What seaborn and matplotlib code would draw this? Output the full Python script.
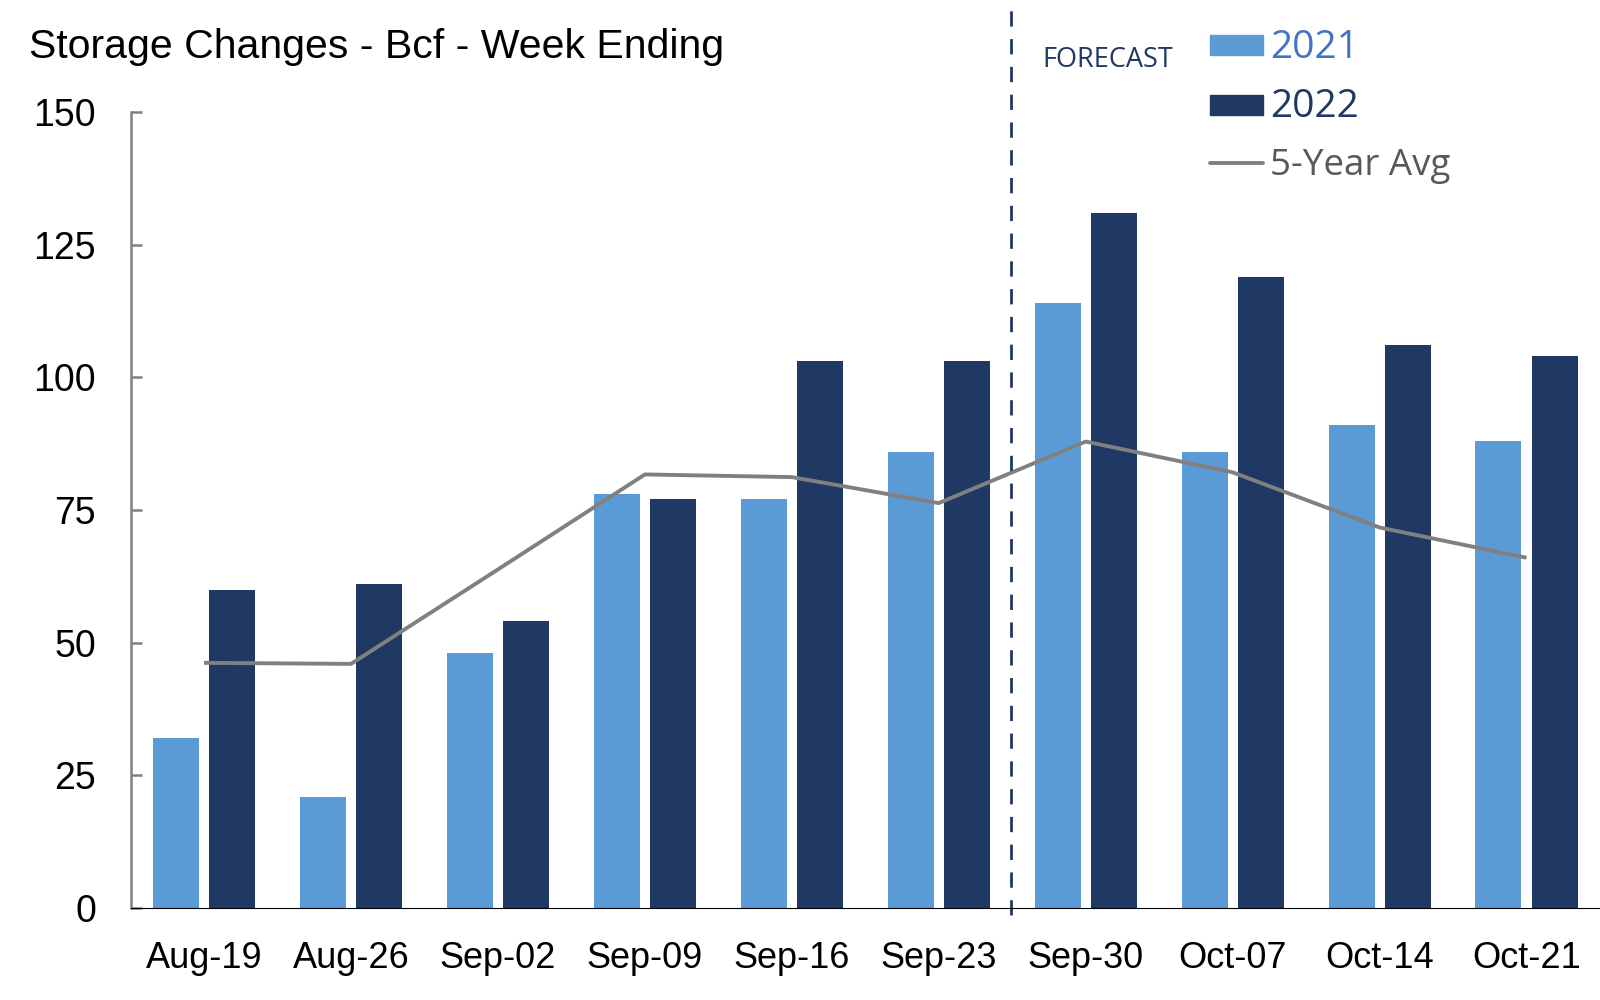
import numpy as np
import pandas as pd
import seaborn as sns
import matplotlib.pyplot as plt
from matplotlib.patches import Rectangle
from matplotlib.lines import Line2D

# data
weeks = ['Aug-19', 'Aug-26', 'Sep-02', 'Sep-09', 'Sep-16',
         'Sep-23', 'Sep-30', 'Oct-07', 'Oct-14', 'Oct-21']
y2021 = [32, 21, 48, 78, 77, 86, 114, 86, 91, 88]
y2022 = [60, 61, 54, 77, 103, 103, 131, 119, 106, 104]
avg5 = [46.2, 46.0, 63.8, 81.7, 81.2, 76.3, 87.9, 82.1, 71.7, 66.0]
years = ['2021', '2022']

df = pd.DataFrame({
    'week': weeks * 2,
    'year': [years[0]] * len(weeks) + [years[1]] * len(weeks),
    'bcf': y2021 + y2022,
})

c21 = '#5B9BD5'
c22 = '#203864'
gray = '#808080'

sns.set_theme(style='white')
plt.rcParams['font.family'] = ['Liberation Sans', 'DejaVu Sans']

W, H = 1600, 1000
fig = plt.figure(figsize=(16, 10), dpi=100)
ax = fig.add_axes([130.6 / W, 0.092, 1 - 130.6 / W, 0.796])

sns.barplot(data=df, x='week', y='bcf', hue='year', palette=[c21, c22],
            width=0.764, gap=0.18, saturation=1, legend=False, ax=ax,
            linewidth=0)
ax.plot(np.arange(len(weeks)), avg5, color=gray, lw=2.8, solid_capstyle='butt')

# forecast divider
ax.axvline(5.49, ymin=-0.009, ymax=1.13, clip_on=False, color='#1F3864',
           lw=2, ls=(0, (5.5, 4.5)))

ax.set_ylim(0, 150)
ax.set_xlim(-0.5, len(weeks) - 0.5)
ax.set_yticks([0, 25, 50, 75, 100, 125, 150])
ax.set_xlabel('')
ax.set_ylabel('')

for s in ['top', 'right']:
    ax.spines[s].set_visible(False)
ax.spines['left'].set_color(gray)
ax.spines['left'].set_linewidth(1.8)
ax.spines['bottom'].set_color('black')
ax.spines['bottom'].set_linewidth(0.8)

ax.tick_params(axis='y', direction='in', length=8, width=1.8, color=gray,
               labelsize=27, pad=25, labelcolor='black', left=True)
ax.tick_params(axis='x', length=0, labelsize=26, pad=24, labelcolor='black')

# title
fig.text(29 / W, 1 - 58 / H, 'Storage Changes - Bcf - Week Ending',
         fontsize=29.5, color='black', va='baseline', ha='left')

# forecast label + legend drawn by hand
lf = ['Open Sans', 'DejaVu Sans']
fig.text(1042 / W, 1 - 67 / H, 'FORECAST', fontsize=19.5, color='#1F3864',
         family=lf, va='baseline')

fig.add_artist(Rectangle((1210 / W, 1 - 55 / H), 53 / W, 20 / H,
                         color=c21, transform=fig.transFigure))
fig.add_artist(Rectangle((1210 / W, 1 - 115 / H), 53 / W, 20 / H,
                         color=c22, transform=fig.transFigure))
fig.add_artist(Line2D([1210 / W, 1263 / W], [1 - 163 / H, 1 - 163 / H],
                      color=gray, lw=2.8, transform=fig.transFigure))
fig.text(1270 / W, 1 - 58 / H, years[0], fontsize=28, color='#4472C4',
         family=lf, va='baseline')
fig.text(1270 / W, 1 - 117 / H, years[1], fontsize=28, color='#1F3864',
         family=lf, va='baseline')
fig.text(1270 / W, 1 - 175 / H, '5-Year Avg', fontsize=26.5, color='#595959',
         family=lf, va='baseline')

fig.savefig('out.png', dpi=100)
